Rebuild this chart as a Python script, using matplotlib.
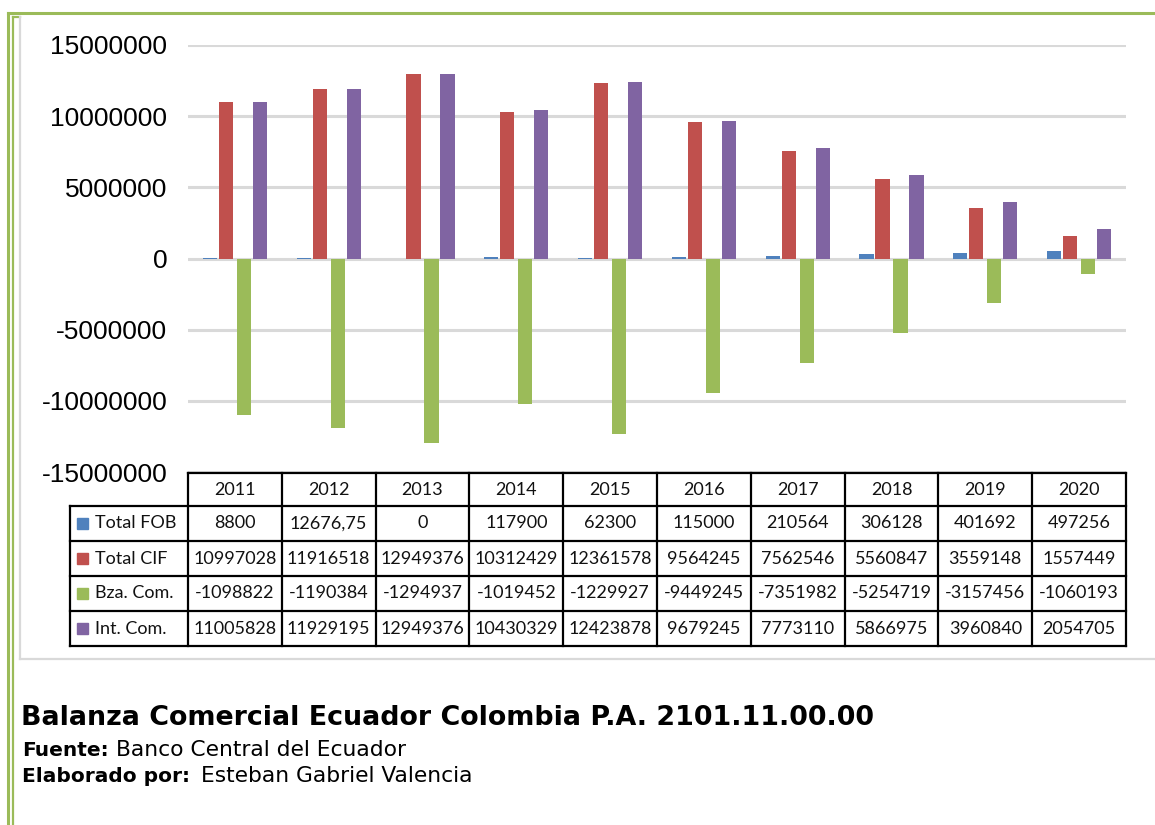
import matplotlib
matplotlib.use("Agg")
import matplotlib.pyplot as plt
from matplotlib.lines import Line2D
from matplotlib.patches import Rectangle
from matplotlib.transforms import blended_transform_factory
import numpy as np

years = ["2011", "2012", "2013", "2014", "2015", "2016", "2017", "2018", "2019", "2020"]
series_names = ["Total FOB", "Total CIF", "Bza. Com.", "Int. Com."]
total_fob = [8800, 12676.75, 0, 117900, 62300, 115000, 210564, 306128, 401692, 497256]
total_cif = [10997028, 11916518, 12949376, 10312429, 12361578, 9564245, 7562546, 5560847, 3559148, 1557449]
bza_com = [-10988228, -11903841, -12949376, -10194529, -12299278, -9449245, -7351982, -5254719, -3157456, -1060193]
int_com = [11005828, 11929195, 12949376, 10430329, 12423878, 9679245, 7773110, 5866975, 3960840, 2054705]
table_text = [
    ["8800", "12676,75", "0", "117900", "62300", "115000", "210564", "306128", "401692", "497256"],
    ["10997028", "11916518", "12949376", "10312429", "12361578", "9564245", "7562546", "5560847", "3559148", "1557449"],
    ["-1098822", "-1190384", "-1294937", "-1019452", "-1229927", "-9449245", "-7351982", "-5254719", "-3157456", "-1060193"],
    ["11005828", "11929195", "12949376", "10430329", "12423878", "9679245", "7773110", "5866975", "3960840", "2054705"],
]
colors = ["#4F81BD", "#C0504D", "#9BBB59", "#8064A2"]

W, H = 1155, 825
fig = plt.figure(figsize=(W / 100, H / 100), dpi=100)

def fx(px):
    return px / W

def fy(py):
    return 1 - py / H

# axes placement (pixels)
ax_l, ax_r, ax_t, ax_b = 188, 1126, 45, 472
ax = fig.add_axes([fx(ax_l), fy(ax_b), fx(ax_r - ax_l), (ax_b - ax_t) / H])

x = np.arange(len(years))
offsets = [-0.267, -0.096, 0.096, 0.267]
bw = 0.152
for vals, off, c in zip([total_fob, total_cif, bza_com, int_com], offsets, colors):
    ax.bar(x + off, vals, width=bw, color=c, zorder=3)

ax.set_xlim(-0.5, len(years) - 0.5)
ax.set_ylim(-15000000, 15000000)
ticks = np.arange(-15000000, 15000001, 5000000)
ax.set_yticks(ticks)
ax.set_yticklabels([f"{v:d}" for v in ticks], fontsize=19, family="Liberation Sans")
ax.tick_params(axis="y", length=0, pad=15)
ax.set_xticks([])
for s in ax.spines.values():
    s.set_visible(False)
ax.grid(axis="y", color="#D9D9D9", linewidth=2.2, zorder=0)
ax.set_axisbelow(True)

# table
tr = blended_transform_factory(ax.transData, fig.transFigure)
rows_y = [473, 506, 541, 576, 611, 646]
tbl_left = 70
lw = 1.6
fig.add_artist(Line2D([fx(ax_l), fx(ax_r)], [fy(rows_y[0])] * 2, color="black", lw=lw))
for yy in rows_y[1:]:
    fig.add_artist(Line2D([fx(tbl_left), fx(ax_r)], [fy(yy)] * 2, color="black", lw=lw))
fig.add_artist(Line2D([fx(tbl_left)] * 2, [fy(rows_y[1]), fy(rows_y[-1])], color="black", lw=lw))
for i in range(len(years) + 1):
    fig.add_artist(Line2D([i - 0.5, i - 0.5], [fy(rows_y[0]), fy(rows_y[-1])],
                          color="black", lw=lw, transform=tr))
tfont = dict(family="Lato", fontsize=13, color="#111111")
for i, yr in enumerate(years):
    fig.text(i, fy((rows_y[0] + rows_y[1]) / 2), yr, transform=tr,
             ha="center", va="center", **tfont)
for r in range(4):
    yc = fy((rows_y[r + 1] + rows_y[r + 2]) / 2)
    for i in range(len(years)):
        fig.text(i, yc, table_text[r][i], transform=tr, ha="center", va="center", **tfont)
    fig.add_artist(Rectangle((fx(77), yc - 5.5 / H), 11 / W, 11 / H, color=colors[r],
                             transform=fig.transFigure))
    fig.text(fx(95), yc, series_names[r], ha="left", va="center", **tfont)

# frame lines
green = "#9BBB59"
fig.add_artist(Line2D([fx(8), fx(1155)], [fy(13), fy(13)], color=green, lw=2.2))
fig.add_artist(Line2D([fx(8), fx(8)], [fy(13), fy(825)], color=green, lw=2.2))
fig.add_artist(Line2D([fx(12.5), fx(12.5)], [fy(17), fy(825)], color=green, lw=1.6))
fig.add_artist(Line2D([fx(12.5), fx(20)], [fy(17), fy(17)], color=green, lw=1.6))
gray = "#D9D9D9"
fig.add_artist(Line2D([fx(20), fx(20)], [fy(17), fy(659)], color=gray, lw=1.6))
fig.add_artist(Line2D([fx(20), fx(1155)], [fy(659), fy(659)], color=gray, lw=1.6))

# titles
cap = dict(family="DejaVu Sans", ha="left", va="center", color="black")
fig.text(fx(21), fy(718), "Balanza Comercial Ecuador Colombia P.A. 2101.11.00.00",
         fontsize=19.4, fontweight="bold", **cap)
fig.text(fx(22), fy(750), "Fuente:", fontsize=14.5, fontweight="bold", **cap)
fig.text(fx(116), fy(750), "Banco Central del Ecuador", fontsize=15.7, **cap)
fig.text(fx(22), fy(776), "Elaborado por:", fontsize=14.5, fontweight="bold", **cap)
fig.text(fx(201), fy(776), "Esteban Gabriel Valencia", fontsize=15.7, **cap)

fig.savefig("out.png", dpi=100)
